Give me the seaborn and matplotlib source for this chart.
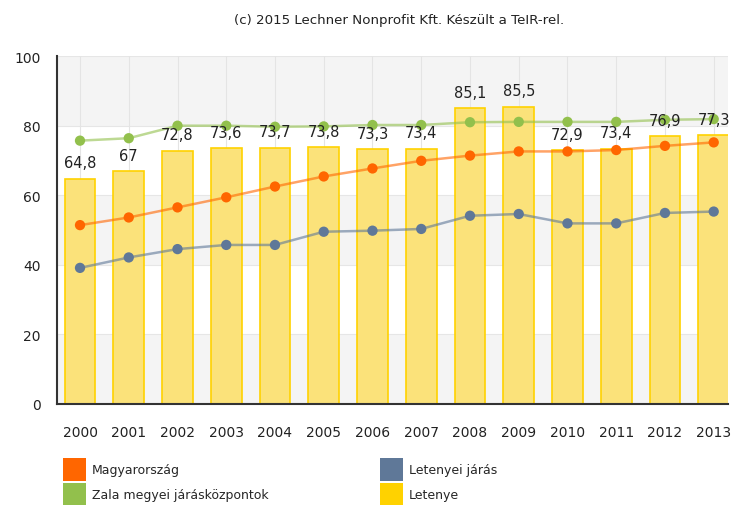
import numpy as np
import pandas as pd
import matplotlib
matplotlib.use("Agg")
import matplotlib.pyplot as plt
from matplotlib.patches import Patch
import seaborn as sns

# chart data
years = [str(y) for y in range(2000, 2014)]
letenye = [64.8, 67, 72.8, 73.6, 73.7, 73.8, 73.3, 73.4, 85.1, 85.5, 72.9, 73.4, 76.9, 77.3]
magyarorszag = [51.4, 53.6, 56.5, 59.4, 62.5, 65.4, 67.7, 69.9, 71.4, 72.6, 72.6, 73.0, 74.2, 75.2]
zala = [75.7, 76.4, 80.0, 80.0, 79.7, 79.8, 80.2, 80.2, 81.0, 81.1, 81.1, 81.1, 81.7, 81.9]
letenyei_jaras = [39.1, 42.1, 44.5, 45.7, 45.7, 49.5, 49.8, 50.3, 54.1, 54.6, 51.9, 51.9, 54.9, 55.3]

colors = {"Magyarország": "#ff6600", "Zala megyei járásközpontok": "#92c04c",
          "Letenyei járás": "#5f7898", "Letenye": "#ffd200"}

df = pd.DataFrame({"year": years, "pos": np.arange(len(years)), "Letenye": letenye,
                   "Magyarország": magyarorszag, "Zala megyei járásközpontok": zala,
                   "Letenyei járás": letenyei_jaras})

sns.set_style("white")
plt.rcParams["font.family"] = ["DejaVu Sans"]

fig = plt.figure(figsize=(7.32, 5.06), dpi=100)
ax = fig.add_axes([0.078, 0.2, 0.917, 0.687])

# alternating background bands and grid
for lo in (0, 40, 80):
    ax.axhspan(lo, lo + 20, color="#f4f4f4", zorder=0, lw=0)
for yv in (20, 40, 60, 80, 100):
    ax.axhline(yv, color="#e6e6e6", lw=0.8, zorder=0.5)
for xv in df["pos"]:
    ax.axvline(xv, color="#e4e4e4", lw=0.8, zorder=0.5)

sns.barplot(data=df, x="pos", y="Letenye", native_scale=True, width=0.63,
            color="#fbe27a", saturation=1, edgecolor="#ffd200", linewidth=1.2,
            ax=ax, zorder=2)

for name in ["Letenyei járás", "Magyarország", "Zala megyei járásközpontok"]:
    ax.plot(df["pos"], df[name], color=colors[name], alpha=0.6, lw=1.8, zorder=3)
    sns.scatterplot(data=df, x="pos", y=name, color=colors[name], s=55,
                    edgecolor="none", ax=ax, zorder=4)

for p, v in zip(df["pos"], letenye):
    txt = f"{v:g}".replace(".", ",")
    ax.annotate(txt, (p, v), xytext=(0, 6), textcoords="offset points",
                ha="center", va="bottom", fontsize=10.5, color="#222222", zorder=5)

ax.set_xlim(-0.47, 13.3)
ax.set_ylim(0, 100)
ax.set_xticks(df["pos"])
ax.set_xticklabels(years, fontsize=10)
ax.set_yticks([0, 20, 40, 60, 80, 100])
ax.set_yticklabels(["0", "20", "40", "60", "80", "100"], fontsize=10)
ax.tick_params(axis="both", direction="out", length=6, width=1, color="#333333",
               labelcolor="#222222", pad=6)
ax.tick_params(axis="x", pad=9)
ax.set_xlabel("")
ax.set_ylabel("")
for s in ("top", "right"):
    ax.spines[s].set_visible(False)
for s in ("left", "bottom"):
    ax.spines[s].set_color("#333333")
    ax.spines[s].set_linewidth(1.5)

fig.text(0.545, 0.96, "(c) 2015 Lechner Nonprofit Kft. Készült a TeIR-rel.",
         ha="center", va="center", fontsize=9.6, color="#222222")

# legend in two columns, placed separately
legend_cols = [["Magyarország", "Zala megyei járásközpontok"],
               ["Letenyei járás", "Letenye"]]
for names, x0 in zip(legend_cols, (63 / 732, 380 / 732)):
    handles = [Patch(facecolor=colors[n], edgecolor="none") for n in names]
    fig.legend(handles, names, loc="upper left", bbox_to_anchor=(x0, 1 - 459 / 506),
               frameon=False, fontsize=9, handlelength=1.85, handleheight=2.4,
               handletextpad=0.45, labelspacing=0.2, borderpad=0, borderaxespad=0)

fig.savefig("out.png", dpi=100)
